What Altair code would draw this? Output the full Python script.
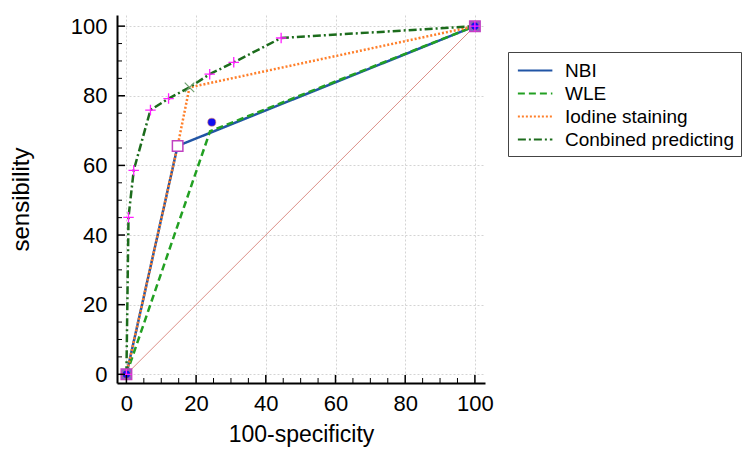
import altair as alt
import pandas as pd

series_names = ["NBI", "WLE", "Iodine staining", "Conbined predicting"]
series_colors = ["#2155a5", "#22a022", "#ff7f2a", "#1c6c1c"]
series_dash = [[1, 0], [7, 4], [2, 2], [8, 3, 2, 3]]

nbi_x = [0, 14.7, 100]
nbi_y = [0, 65.6, 100]
wle_x = [0, 24.0, 100]
wle_y = [0, 69.8, 100]
iod_x = [0, 14.7, 18.1, 100]
iod_y = [0, 65.6, 82.4, 100]
comb_x = [0, 0.6, 2.1, 6.9, 12.1, 18.1, 23.9, 30.8, 44.4, 100]
comb_y = [0, 45.1, 58.6, 75.9, 79.2, 82.4, 86.2, 89.6, 96.6, 100]

plus_x = [0, 0.6, 2.1, 6.9, 12.1, 23.9, 30.8, 44.4, 100]
plus_y = [0, 45.1, 58.6, 75.9, 79.2, 86.2, 89.6, 96.6, 100]
cross_x = [18.1]
cross_y = [82.4]
square_x = [14.7]
square_y = [65.6]
end_x = [0, 100]
end_y = [0, 100]
dot_x = [24.5, 0, 100]
dot_y = [72.4, 0, 100]

diag_x = [0, 100]
diag_y = [0, 100]

major_ticks = [0, 20, 40, 60, 80, 100]
minor_ticks = [5, 10, 15, 25, 30, 35, 45, 50, 55, 65, 70, 75, 85, 90, 95]

rows = []
for name, xs_, ys_ in zip(series_names, [nbi_x, wle_x, iod_x, comb_x], [nbi_y, wle_y, iod_y, comb_y]):
    for i, (a, b) in enumerate(zip(xs_, ys_)):
        rows.append({"series": name, "x": a, "y": b, "i": i})
lines_df = pd.DataFrame(rows)

W, H = 368, 368
FONT = "Liberation Sans"
xs = alt.Scale(domain=[-2.7, 102.9], nice=False, zero=False)
ys = alt.Scale(domain=[-2.5, 103.2], nice=False, zero=False)

ax_x = alt.Axis(values=major_ticks, ticks=False, title="100-specificity",
                labelFontSize=22, titleFontSize=23, labelPadding=10, titlePadding=9,
                titleFontWeight="normal", grid=True)
ax_y = alt.Axis(values=major_ticks, ticks=False, title="sensibility",
                labelFontSize=22, titleFontSize=24, labelPadding=10, titlePadding=37,
                titleFontWeight="normal", grid=True)


def X(f):
    return alt.X(f, scale=xs, axis=ax_x)


def Y(f):
    return alt.Y(f, scale=ys, axis=ax_y)


diag = alt.Chart(pd.DataFrame({"x": diag_x, "y": diag_y})).mark_line(
    color="#dc8f88", strokeWidth=1
).encode(x=X("x:Q"), y=Y("y:Q"))

leg = alt.Legend(title=None, orient="none", legendX=391, legendY=37)
lines = alt.Chart(lines_df).mark_line(strokeWidth=2.5).encode(
    x=X("x:Q"),
    y=Y("y:Q"),
    color=alt.Color("series:N", scale=alt.Scale(domain=series_names, range=series_colors), legend=leg),
    strokeDash=alt.StrokeDash("series:N", scale=alt.Scale(domain=series_names, range=series_dash), legend=leg),
    order="i:Q",
)


def pts(xv, yv):
    return pd.DataFrame({"x": xv, "y": yv})


PLUS = "M-1,0L1,0M0,-1L0,1"
XSH = "M-1,-1L1,1M-1,1L1,-1"

end_sq = alt.Chart(pts(end_x, end_y)).mark_point(
    shape="square", size=110, filled=True, fill="#7a6ad0", stroke="#c040c0", strokeWidth=1.5, opacity=1
).encode(x=X("x:Q"), y=Y("y:Q"))

sq = alt.Chart(pts(square_x, square_y)).mark_point(
    shape="square", size=110, filled=True, fill="white", stroke="#c040c0", strokeWidth=1.5, opacity=1
).encode(x=X("x:Q"), y=Y("y:Q"))

dots = alt.Chart(pts(dot_x, dot_y)).mark_point(
    shape="circle", size=65, filled=True, fill="#1010f0", stroke="#e08060", strokeWidth=0.6, opacity=1
).encode(x=X("x:Q"), y=Y("y:Q"))

plus = alt.Chart(pts(plus_x, plus_y)).mark_point(
    shape=PLUS, size=110, stroke="#ff20ff", strokeWidth=1.3, opacity=1
).encode(x=X("x:Q"), y=Y("y:Q"))

cross = alt.Chart(pts(cross_x, cross_y)).mark_point(
    shape=XSH, size=90, stroke="#70a070", strokeWidth=1.2, opacity=1
).encode(x=X("x:Q"), y=Y("y:Q"))

tx_major = alt.Chart(pd.DataFrame({"x": major_ticks})).mark_rule(color="black", strokeWidth=1.5).encode(
    x=X("x:Q"), y=alt.value(H), y2=alt.value(H - 8))
tx_minor = alt.Chart(pd.DataFrame({"x": minor_ticks})).mark_rule(color="black", strokeWidth=1).encode(
    x=X("x:Q"), y=alt.value(H), y2=alt.value(H - 5))
ty_major = alt.Chart(pd.DataFrame({"y": major_ticks})).mark_rule(color="black", strokeWidth=1.5).encode(
    y=Y("y:Q"), x=alt.value(0), x2=alt.value(8))
ty_minor = alt.Chart(pd.DataFrame({"y": minor_ticks})).mark_rule(color="black", strokeWidth=1).encode(
    y=Y("y:Q"), x=alt.value(0), x2=alt.value(5))

chart = alt.layer(
    diag, lines, end_sq, sq, dots, plus, cross, tx_major, tx_minor, ty_major, ty_minor
).properties(
    width=W, height=H,
    autosize=alt.AutoSizeParams(type="none"),
    padding={"left": 109, "top": 7, "right": 262, "bottom": 65},
).configure_view(
    stroke=None
).configure_axis(
    domainColor="black", domainWidth=2, gridColor="#d4d4d4", gridDash=[2, 2], gridWidth=1,
    labelFont=FONT, titleFont=FONT, labelColor="black", titleColor="black",
).configure_legend(
    labelFont=FONT, labelFontSize=19, labelColor="black", symbolType="M-0.75,0L2.25,0",
    symbolStrokeWidth=2, symbolSize=529, strokeColor="#444444", fillColor="white",
    padding=6, labelOffset=26, rowPadding=0, cornerRadius=0, labelLimit=400,
)

chart.save("out.html", embed_options={"renderer": "svg", "actions": False})
